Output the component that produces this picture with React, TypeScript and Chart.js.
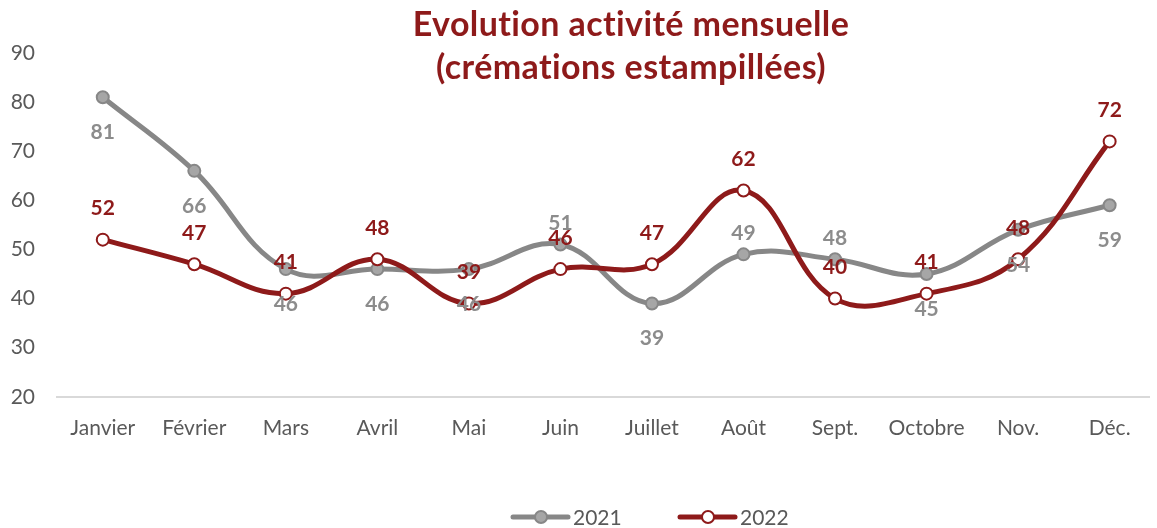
import React, { useEffect, useRef } from "react";
import { Chart, registerables } from "chart.js";

Chart.register(...registerables);

// ---- Data ----
const months = ["Janvier", "Février", "Mars", "Avril", "Mai", "Juin", "Juillet", "Août", "Sept.", "Octobre", "Nov.", "Déc."];
const values2021 = [81, 66, 46, 46, 46, 51, 39, 49, 48, 45, 54, 59];
const values2022 = [52, 47, 41, 48, 39, 46, 47, 62, 40, 41, 48, 72];
const labelSide2021 = ["below", "below", "below", "below", "below", "above", "below", "above", "above", "below", "below", "below"];
const labelSide2022 = ["above", "above", "above", "above", "above", "above", "above", "above", "above", "above", "above", "above"];
const seriesNames = ["2021", "2022"];
const titleLines = ["Evolution activité mensuelle", "(crémations estampillées)"];
const yMin = 20;
const yMax = 90;
const yStep = 10;

// ---- Styles ----
const FONT = "Lato, 'Open Sans', sans-serif";
const GRAY_LINE = "#878787";
const GRAY_POINT = "#a6a6a6";
const GRAY_LABEL = "#8c8c8c";
const RED = "#8e1a1a";
const TEXT = "#595959";

const dataLabelsPlugin = {
  id: "dataLabelsCustom",
  afterDatasetsDraw(chart: any) {
    const ctx = chart.ctx;
    ctx.save();
    ctx.font = `bold 21px ${FONT}`;
    ctx.textAlign = "center";
    ctx.textBaseline = "middle";
    chart.data.datasets.forEach((ds: any, di: number) => {
      const meta = chart.getDatasetMeta(di);
      meta.data.forEach((pt: any, i: number) => {
        const side = ds.labelSides[i];
        const off = side === "above" ? -ds.labelAbove : ds.labelBelow;
        ctx.fillStyle = ds.labelColor;
        ctx.fillText(String(ds.data[i].y), pt.x, pt.y + off);
      });
    });
    ctx.restore();
  },
};

const titlePlugin = {
  id: "titleCustom",
  afterDraw(chart: any) {
    const ctx = chart.ctx;
    ctx.save();
    ctx.font = `bold 34px ${FONT}`;
    try {
      (ctx as any).letterSpacing = "0.4px";
    } catch (e) {}
    ctx.fillStyle = RED;
    ctx.textAlign = "center";
    ctx.textBaseline = "alphabetic";
    ctx.fillText(titleLines[0], 631, 36);
    ctx.fillText(titleLines[1], 631, 79);
    ctx.restore();
  },
};

const legendPlugin = {
  id: "legendCustom",
  afterDraw(chart: any) {
    const ctx = chart.ctx;
    const y = 517;
    const items = [
      { x: 513, name: seriesNames[0], line: GRAY_LINE, fill: GRAY_POINT, border: GRAY_LINE },
      { x: 680, name: seriesNames[1], line: RED, fill: "#ffffff", border: RED },
    ];
    ctx.save();
    items.forEach((it) => {
      ctx.strokeStyle = it.line;
      ctx.lineWidth = 5;
      ctx.lineCap = "round";
      ctx.beginPath();
      ctx.moveTo(it.x, y);
      ctx.lineTo(it.x + 55, y);
      ctx.stroke();
      ctx.beginPath();
      ctx.arc(it.x + 28, y, 6, 0, Math.PI * 2);
      ctx.fillStyle = it.fill;
      ctx.fill();
      ctx.lineWidth = 2;
      ctx.strokeStyle = it.border;
      ctx.stroke();
      ctx.font = `21px ${FONT}`;
      ctx.fillStyle = TEXT;
      ctx.textAlign = "left";
      ctx.textBaseline = "middle";
      ctx.fillText(it.name, it.x + 60, y + 1);
    });
    ctx.restore();
  },
};

export default function App() {
  const ref = useRef<HTMLCanvasElement | null>(null);

  useEffect(() => {
    document.body.style.margin = "0";
    const canvas = ref.current;
    if (!canvas) return;
    const chart = new Chart(canvas, {
      type: "line",
      data: {
        datasets: [
          {
            label: seriesNames[0],
            data: values2021.map((v, i) => ({ x: i, y: v })),
            borderColor: GRAY_LINE,
            backgroundColor: GRAY_POINT,
            pointBackgroundColor: GRAY_POINT,
            pointBorderColor: GRAY_LINE,
            borderWidth: 5,
            pointRadius: 6,
            pointBorderWidth: 2,
            tension: 0.4,
            order: 1,
            labelSides: labelSide2021,
            labelColor: GRAY_LABEL,
            labelAbove: 21,
            labelBelow: 35,
          } as any,
          {
            label: seriesNames[1],
            data: values2022.map((v, i) => ({ x: i, y: v })),
            borderColor: RED,
            backgroundColor: "#ffffff",
            pointBackgroundColor: "#ffffff",
            pointBorderColor: RED,
            borderWidth: 5,
            pointRadius: 6,
            pointBorderWidth: 2,
            tension: 0.4,
            order: 0,
            labelSides: labelSide2022,
            labelColor: RED,
            labelAbove: 31,
            labelBelow: 35,
          } as any,
        ],
      },
      options: {
        responsive: false,
        animation: false,
        layout: { padding: { top: 53, left: 0, right: 0, bottom: 76 } },
        plugins: {
          legend: { display: false },
          tooltip: { enabled: false },
          title: { display: false },
        },
        scales: {
          x: {
            type: "linear",
            min: -0.5,
            max: 11.43,
            afterBuildTicks: (scale: any) => {
              scale.ticks = months.map((_, i) => ({ value: i }));
            },
            ticks: {
              autoSkip: false,
              maxRotation: 0,
              padding: 11,
              color: TEXT,
              font: { family: FONT, size: 21 },
              callback: (v: any) => months[v] ?? "",
            },
            grid: { display: false },
            border: { display: true, color: "#d9d9d9", width: 2 },
          },
          y: {
            min: yMin,
            max: yMax,
            afterFit: (scale: any) => {
              scale.width = 57;
            },
            ticks: {
              stepSize: yStep,
              padding: 22,
              color: TEXT,
              font: { family: FONT, size: 21 },
            },
            grid: { display: false, drawTicks: false },
            border: { display: false },
          },
        },
      },
      plugins: [dataLabelsPlugin, titlePlugin, legendPlugin],
    });
    return () => chart.destroy();
  }, []);

  return (
    <div style={{ width: 1157, height: 528, background: "#fff" }}>
      <canvas ref={ref} width={1157} height={528} />
    </div>
  );
}
